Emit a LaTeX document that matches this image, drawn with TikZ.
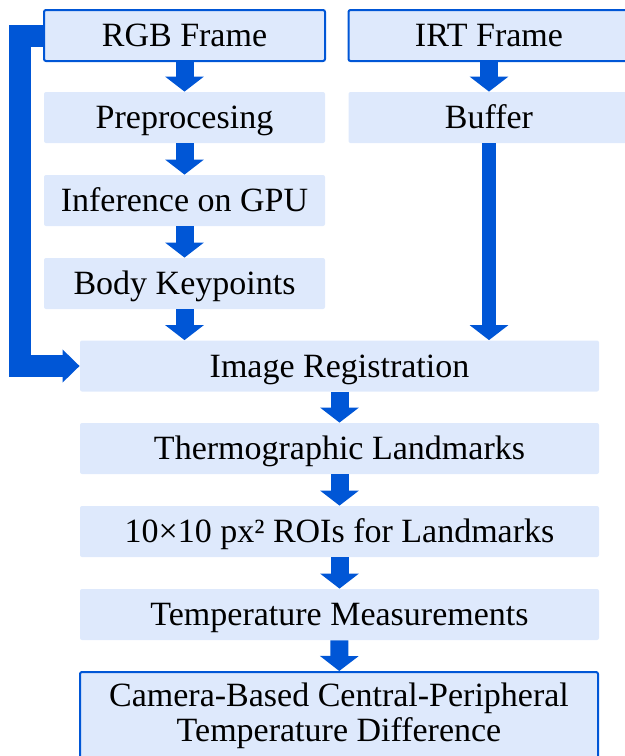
\documentclass[tikz,border=0pt]{standalone}
\usepackage{fontspec}
\setmainfont{Liberation Serif}
\usetikzlibrary{arrows.meta}

\definecolor{flowblue}{RGB}{0,86,214}
\definecolor{flowfill}{RGB}{222,233,252}

\tikzset{
    stage/.style={fill=flowfill, rounded corners=1pt, inner sep=0pt,
        minimum height=25.5pt, align=center,
        font=\fontsize{17}{17.5}\selectfont},
    oneline/.style={text height=11.25pt, text depth=0pt},
    upper/.style={stage, oneline, minimum width=140.5pt},
    lower/.style={stage, oneline, minimum width=259.5pt},
    framed/.style={draw=flowblue, line width=1pt},
    result/.style={stage, framed, minimum width=259pt, minimum height=44pt},
    flow/.style={flowblue, line width=9pt,
        -{Triangle[width=19pt, length=7.5pt]}},
    feed/.style={flowblue, line width=7pt,
        -{Triangle[width=19pt, length=7.5pt]}},
    loop/.style={flowblue, line width=11pt, line join=miter,
        -{Triangle[width=16pt, length=8.5pt]}}
}

\begin{document}
\begin{tikzpicture}[x=0.5pt, y=-0.5pt]
        \useasboundingbox (0,0) rectangle (625,756);
        % rgb branch
        \node[upper, framed] (rgb) at (184.5, 35.5)  {RGB Frame};
        \node[upper]         (pre) at (184.5, 117.5) {Preprocesing};
        \node[upper]         (inf) at (184.5, 200.5) {Inference on GPU};
        \node[upper]         (kp)  at (184.5, 283.5) {Body Keypoints};
        % thermal branch
        \node[upper, framed] (irt) at (489, 35.5)    {IRT Frame};
        \node[upper]         (buf) at (489, 117.5)   {Buffer};
        % common part
        \node[lower] (reg)  at (339.5, 366)   {Image Registration};
        \node[lower] (land) at (339.5, 448.5) {Thermographic Landmarks};
        \node[lower] (roi)  at (339.5, 531.5) {10×10 px² ROIs for Landmarks};
        \node[lower] (temp) at (339.5, 614.5) {Temperature Measurements};
        \node[result] (diff) at (339, 716)
            {Camera-Based Central-Peripheral\\Temperature Difference};

        \draw[flow] (rgb) -- (pre);
        \draw[flow] (pre) -- (inf);
        \draw[flow] (inf) -- (kp);
        \draw[flow] (kp.south) -- (kp.south |- reg.north);
        \draw[flow] (irt) -- (buf);
        \draw[feed] (buf) -- (buf.south |- reg.north);
        \draw[loop] (rgb.west) -- ++(-23,0) |- (reg.west);
        \draw[flow] (reg.south -| land.north) -- (land);
        \draw[flow] (land) -- (roi);
        \draw[flow] (roi) -- (temp);
        \draw[flow] (temp) -- (diff);
\end{tikzpicture}
\end{document}
